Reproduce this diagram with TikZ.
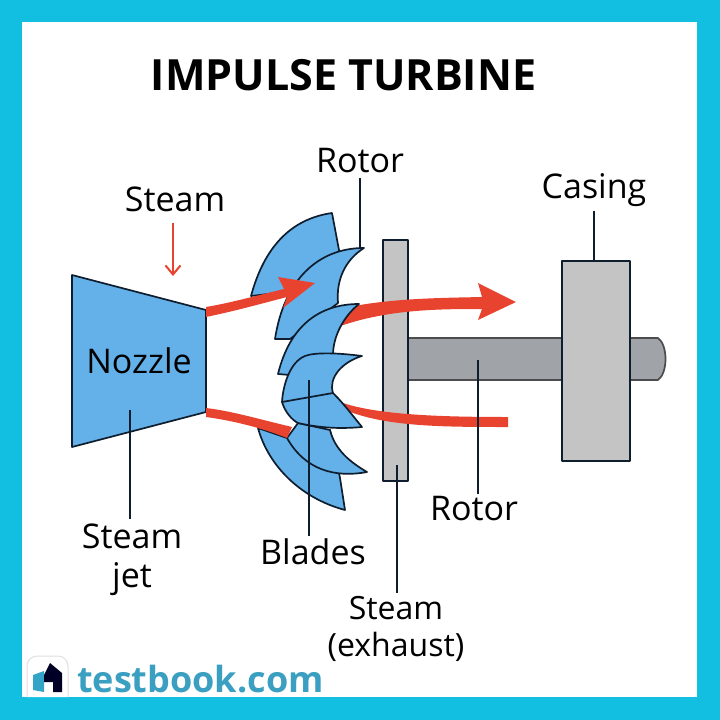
\documentclass[tikz,border=0pt]{standalone}
\usepackage{fontspec}
\setmainfont{Open Sans}
\usetikzlibrary{arrows.meta}
\definecolor{frame}{HTML}{12BFE0}
\definecolor{bladeblue}{HTML}{64B0E8}
\definecolor{flowred}{HTML}{E8432F}
\definecolor{linedark}{HTML}{0F1E2E}
\definecolor{plategray}{HTML}{C4C4C4}
\definecolor{shaftgray}{HTML}{A0A4A8}
\definecolor{brand}{HTML}{3A9FC0}
\tikzset{
  part/.style={draw=linedark,line width=1.7pt,line join=round},
  blade/.style={part,fill=bladeblue},
  flow/.style={fill=flowred,draw=none},
  leader/.style={draw=linedark,line width=1.8pt},
  lab/.style={font=\fontsize{34}{39}\selectfont,text=black,inner sep=0pt,align=center},
}
\begin{document}
\begin{tikzpicture}[x=1pt,y=-1pt]
\useasboundingbox (0,0) rectangle (720,720);
\fill[frame] (0,0) rectangle (720,720);
\fill[white] (22,22) rectangle (697,697);

% labels
\node[inner sep=0pt,font=\bfseries\fontsize{43}{48}\selectfont] (title) at (343.5,75) {IMPULSE TURBINE};
\node[lab] (steam) at (175,199) {Steam};
\node[lab] (rotortop) at (360,161) {Rotor};
\node[lab] (casinglab) at (594,190) {Casing};
\node[lab] (jetlab) at (132,560) {Steam\\jet};
\node[lab] (bladeslab) at (313,552) {Blades};
\node[lab] (rotorlab) at (474,509) {Rotor};
\node[lab,font=\fontsize{32}{37}\selectfont] (exhaust) at (396,629) {Steam\\(exhaust)};

% nozzle
\draw[part,fill=bladeblue] (72,275) -- (206,310) -- (206,412) -- (72,447) -- cycle;
\node[lab] (nozzle) at (139,361) {Nozzle};

% shaft, casing, plate
\draw[part,draw=black!70,fill=shaftgray] (630,338) -- (658,338) .. controls (668,345) and (668,373) .. (658,380) -- (630,380) -- cycle;
\draw[part,draw=black!70,fill=shaftgray] (408,338) rectangle (562,380);
\node[part,fill=plategray,minimum width=68pt,minimum height=200pt,inner sep=0pt] (casing) at (596,361) {};
\node[part,fill=plategray,minimum width=25pt,minimum height=241pt,inner sep=0pt] (plate) at (395.5,360.5) {};

% red flows that pass behind the blades
\path[flow] (335,310) .. controls (385,298) and (440,298) .. (482,297) -- (478,283) -- (516,302) -- (478,320)
  -- (482,309) .. controls (440,309) and (385,309) .. (335,328) -- cycle;
\path[flow] (335,400) .. controls (370,415) and (440,417) .. (508,417) -- (508,427)
  .. controls (440,427) and (375,427) .. (335,405) -- cycle;

% blades, back to front
\draw[blade] (251,296) .. controls (264,248) and (290,219) .. (332,213) -- (339,250) -- (335,285) -- (285,292) -- cycle;
\draw[blade] (258,428) .. controls (268,465) and (300,498) .. (345,510) -- (340,478) -- (330,430) -- (287,438) -- cycle;
\draw[blade] (364,248) .. controls (318,248) and (284,280) .. (275,339) -- (290,339) -- (338,303)
  .. controls (336,280) and (345,260) .. (364,248) -- cycle;
\draw[blade] (287,438) -- (298,423) -- (330,430) .. controls (335,450) and (350,462) .. (367,472)
  .. controls (335,478) and (305,470) .. (287,438) -- cycle;
\draw[blade] (359,304) .. controls (320,304) and (290,325) .. (278,374) -- (290,375) -- (333,355)
  .. controls (333,335) and (345,315) .. (359,304) -- cycle;
\draw[blade] (362,356) .. controls (340,353) and (315,352) .. (305,356) .. controls (290,362) and (283,385) .. (282,402)
  .. controls (285,412) and (292,420) .. (298,423) .. controls (320,428) and (340,429) .. (362,427)
  .. controls (352,415) and (345,405) .. (333,393) .. controls (328,378) and (342,362) .. (362,356) -- cycle;
\draw[part] (282,402) -- (333,393);

% red flows in front of the blades
\path[flow] (206,307) .. controls (230,303) and (255,296) .. (284,289) -- (278,277) -- (315,283) -- (283,308)
  -- (287,297) .. controls (260,304) and (235,311) .. (206,317) -- cycle;
\path[flow] (206,408) .. controls (232,411) and (262,420) .. (292,427) -- (287,438)
  .. controls (262,428) and (235,421) .. (206,417) -- cycle;

% leaders
\coordinate (steamtip) at (173,276);
\coordinate (rotorend) at (360,248);
\coordinate (casingend) at (594,261);
\coordinate (nozzleend) at (130,410);
\coordinate (bladesend) at (309,380);
\coordinate (shaftend) at (478,360);
\coordinate (plateend) at (397,465);
\coordinate (rotortopfoot) at ([yshift=-4pt]rotortop.south);
\coordinate (casingfoot) at ([yshift=-4pt]casinglab.south);
\coordinate (jethead) at ([yshift=5pt]jetlab.north);
\coordinate (bladeshead) at ([yshift=3pt]bladeslab.north);
\coordinate (rotorhead) at ([yshift=3pt]rotorlab.north);
\coordinate (exhausthead) at ([yshift=3pt]exhaust.north);
\draw[draw=flowred,line width=2pt,-{Straight Barb[length=9pt,width=15pt]}] (173,223) -- (steamtip);
\draw[leader] (rotorend |- rotortopfoot) -- (rotorend);
\draw[leader] (casingend |- casingfoot) -- (casingend);
\draw[leader] (nozzleend) -- (nozzleend |- jethead);
\draw[leader] (bladesend) -- (bladesend |- bladeshead);
\draw[leader] (shaftend) -- (shaftend |- rotorhead);
\draw[leader] (plateend) -- (plateend |- exhausthead);

% logo
\draw[draw=black!12,line width=1pt,fill=white,rounded corners=10pt] (27,697) -- (27,656) -- (68,656) -- (68,697);
\fill[brand!80!frame] (33,675) -- (44,671) -- (44,692) -- (33,690) -- cycle;
\fill[black!85!blue] (44,675) -- (50,663) -- (62,673) -- (62,692) -- (53,692) -- (53,682) -- (44,682) -- cycle;
\node[inner sep=0pt,anchor=base west,text=brand,font=\bfseries\fontsize{36}{40}\selectfont] (brandname) at (77,692) {testbook.com};
\end{tikzpicture}
\end{document}
